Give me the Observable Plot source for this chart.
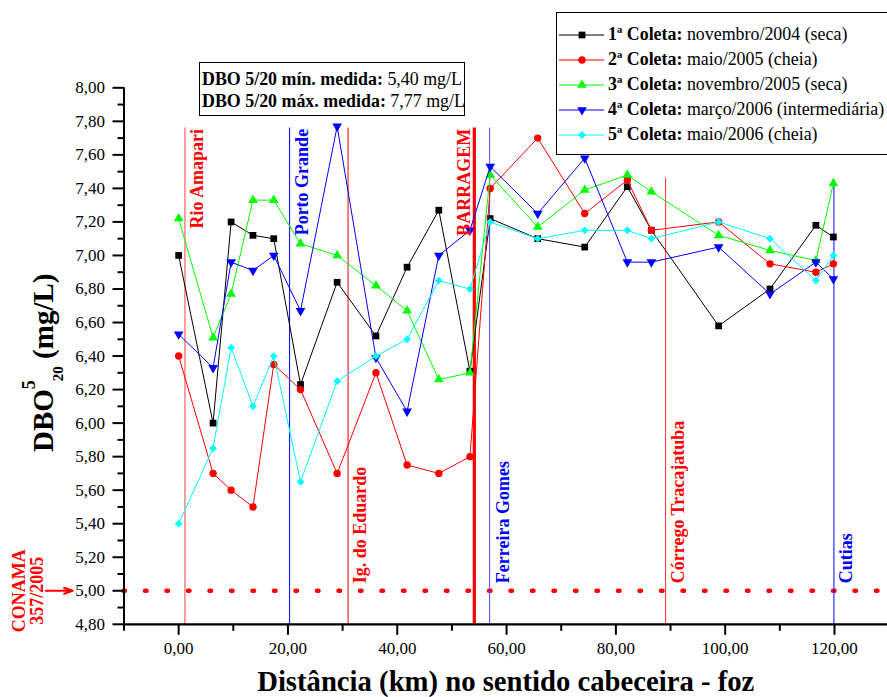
<!DOCTYPE html>
<html><head><meta charset="utf-8">
<script src="https://cdn.jsdelivr.net/npm/d3@7"></script>
<script src="https://cdn.jsdelivr.net/npm/@observablehq/plot@0.6"></script>
<style>
body{margin:0;background:#fff;}
#wrap{position:relative;width:887px;height:697px;font-family:"Liberation Serif","Times New Roman",serif;color:#000;overflow:hidden;}
#wrap svg{position:absolute;left:0;top:0;}
.box{position:absolute;background:#fff;border:1.5px solid #000;box-sizing:border-box;}
#legend{left:556px;top:12px;width:332px;height:143px;padding-top:9px;font-size:17.9px;}
.row{display:flex;align-items:center;height:25px;white-space:nowrap;}
.row svg{position:static !important;margin-left:2px;margin-right:3px;}
#anot{left:199px;top:62px;width:266px;height:54px;font-size:17.9px;line-height:22px;padding:5px 0 0 2px;white-space:nowrap;}
b{font-weight:bold;}
</style></head>
<body><div id="wrap"></div>
<script>
// Distância (km) de cada ponto de coleta
const distancia = [0, 6.3, 9.6, 13.6, 17.4, 22.3, 29.0, 36.1, 41.8, 47.6, 53.3, 57.0, 65.7, 74.3, 82.1, 86.5, 98.8, 108.2, 116.6, 119.8];
// DBO 5/20 (mg/L) por coleta
const coleta1 = [7.00, 6.00, 7.20, 7.12, 7.10, 6.23, 6.84, 6.52, 6.93, 7.27, 6.31, 7.22, 7.10, 7.05, 7.41, 7.15, 6.58, 6.80, 7.18, 7.11];
const coleta2 = [6.40, 5.70, 5.60, 5.50, 6.35, 6.20, 5.70, 6.30, 5.75, 5.70, 5.80, 7.40, 7.70, 7.25, 7.45, 7.15, 7.20, 6.95, 6.90, 6.95];
const coleta3 = [7.22, 6.51, 6.77, 7.33, 7.33, 7.07, 7.00, 6.82, 6.67, 6.26, 6.30, 7.48, 7.17, 7.39, 7.48, 7.38, 7.12, 7.03, 6.97, 7.43];
const coleta4 = [6.53, 6.33, 6.96, 6.91, 7.00, 6.67, 7.77, 6.39, 6.07, 7.00, 7.15, 7.53, 7.25, 7.58, 6.96, 6.96, 7.05, 6.77, 6.96, 6.86];
const coleta5 = [5.40, 5.85, 6.45, 6.10, 6.40, 5.65, 6.25, 6.40, 6.50, 6.85, 6.80, 7.20, 7.10, 7.15, 7.15, 7.10, 7.20, 7.10, 6.85, 7.00];
const coletaNomes = ["1ª Coleta:", "2ª Coleta:", "3ª Coleta:", "4ª Coleta:", "5ª Coleta:"];
const coletaDesc = ["novembro/2004 (seca)", "maio/2005 (cheia)", "novembro/2005 (seca)", "março/2006 (intermediária)", "maio/2006 (cheia)"];
// Marcos ao longo do rio
const marcos = ["Rio Amapari", "Porto Grande", "Ig. do Eduardo", "BARRAGEM", "Ferreira Gomes", "Córrego Tracajatuba", "Cutias"];
const marcosKm = [1.15, 20.3, 31.0, 54.1, 56.9, 89.1, 119.9];
// Limite CONAMA 357/2005
const limiteConama = 5.0;
const dboMin = "5,40", dboMax = "7,77";
// Ticks
const yMajor = d3.range(48, 81, 2).map(d => d / 10);
const yMinor = d3.range(49, 80, 2).map(d => d / 10);
const xMajor = [0, 20, 40, 60, 80, 100, 120];
const xMinor = [-10, 10, 30, 50, 70, 90, 110, 130];

// ---- styles ----
const FONT = '"Liberation Serif","Times New Roman",serif';
const cores = ["#000000", "#ff0000", "#00ff00", "#0000ff", "#00ffff"];
const simbolos = ["square", "circle", "triangle", "triangle", "diamond2"];
const rotacoes = [0, 0, 0, 180, 0];
const raios = [3.8, 3.7, 3.6, 3.6, 3.5];
const marcoEstilo = {
  "Rio Amapari":        {stroke: "#ff6a6a", fill: "#ff0000", w: 1.3, top: 7.76, pos: "top", dx: 12.5},
  "Porto Grande":       {stroke: "#0000ff", fill: "#0000ff", w: 1, top: 7.76, pos: "top", dx: 12.5},
  "Ig. do Eduardo":     {stroke: "#ff0000", fill: "#ff0000", w: 1, top: 7.76, pos: "bottom", dx: 12.5},
  "BARRAGEM":           {stroke: "#ff0000", fill: "#ff0000", w: 3.2, top: 7.76, pos: "top", dx: -10},
  "Ferreira Gomes":     {stroke: "#4a4aff", fill: "#0000ff", w: 1, top: 7.76, pos: "bottom", dx: 13.5},
  "Córrego Tracajatuba":{stroke: "#ff2a2a", fill: "#ff0000", w: 1, top: 7.46, pos: "bottom", dx: 13},
  "Cutias":             {stroke: "#0000ff", fill: "#0000ff", w: 1, top: 7.44, pos: "bottom", dx: 12}
};

const coletas = [coleta1, coleta2, coleta3, coleta4, coleta5];
const fmt = d => d.toFixed(2).replace(".", ",");
const marcosData = marcos.map((m, i) => ({nome: m, km: marcosKm[i]}));

const marks = [
  Plot.ruleY([limiteConama], {stroke: "#ff0000", strokeWidth: 4.5, strokeDasharray: "1.5 20", strokeLinecap: "round"})
];
marcosData.forEach(d => {
  const s = marcoEstilo[d.nome];
  marks.push(Plot.ruleX([d], {x: "km", y1: 4.8, y2: s.top, stroke: s.stroke, strokeWidth: s.w}));
});
coletas.forEach((vals, i) => {
  const rows = distancia.map((x, j) => ({x, y: vals[j]}));
  marks.push(Plot.line(rows, {x: "x", y: "y", stroke: cores[i], strokeWidth: 1}));
  marks.push(Plot.dot(rows, {x: "x", y: "y", symbol: simbolos[i], fill: cores[i], stroke: "none", r: raios[i], rotate: rotacoes[i]}));
});
marcosData.forEach(d => {
  const s = marcoEstilo[d.nome];
  marks.push(Plot.text([d], {
    x: "km", y: s.pos === "top" ? 7.755 : 5.045, text: "nome", rotate: -90,
    textAnchor: s.pos === "top" ? "end" : "start", dx: s.dx,
    fill: s.fill, fontSize: 18, fontWeight: "bold", fontFamily: FONT
  }));
});
// CONAMA label and arrow
marks.push(Plot.text([limiteConama], {y: d => d, frameAnchor: "left", textAnchor: "middle", dx: -96, text: () => "CONAMA\n357/2005",
  rotate: -90, lineHeight: 1.0, fill: "#ff0000", fontSize: 18, fontWeight: "bold", fontFamily: FONT}));
marks.push(Plot.arrow([limiteConama], {x1: () => -24.3, x2: () => -19.4, y1: d => d, y2: d => d,
  stroke: "#ff0000", strokeWidth: 2.2, headLength: 15, headAngle: 38}));
// x title
marks.push(Plot.text(["Distância (km) no sentido cabeceira - foz"], {frameAnchor: "bottom", dy: 67, text: d => d,
  fontSize: 28.7, fontWeight: "bold", fill: "#000", fontFamily: FONT}));
// axes
marks.push(
  Plot.ruleX([-10], {y1: 4.8, y2: 8, stroke: "#000", strokeWidth: 2}),
  Plot.ruleY([4.8], {stroke: "#000", strokeWidth: 2.2}),
  Plot.axisY(yMajor, {tickSize: 11, tickPadding: 8, tickFormat: fmt, strokeWidth: 2, fontSize: 17, fontFamily: FONT, label: null}),
  Plot.axisY(yMinor, {tickSize: 6, tickFormat: () => "", strokeWidth: 2, label: null}),
  Plot.axisX(xMajor, {tickSize: 11, tickPadding: 7, tickFormat: fmt, strokeWidth: 2, fontSize: 17, fontFamily: FONT, label: null}),
  Plot.axisX(xMinor, {tickSize: 7, tickFormat: () => "", strokeWidth: 2, label: null})
);

const chart = Plot.plot({
  width: 887, height: 697,
  marginLeft: 123.5, marginRight: 0, marginTop: 87.3, marginBottom: 73.2,
  x: {domain: [-10, 129.7], label: null},
  y: {domain: [4.8, 8], label: null},
  style: {fontFamily: FONT, fontSize: "17px", color: "#000", background: "#fff", overflow: "visible"},
  marks
});
const wrap = document.getElementById("wrap");
wrap.appendChild(chart);

// y title with super/subscripts
const t = d3.select(chart).append("text")
  .attr("transform", "translate(53,452) rotate(-90)")
  .attr("text-anchor", "start")
  .attr("font-family", FONT)
  .attr("font-weight", "bold").attr("font-size", 29).attr("fill", "#000");
t.append("tspan").text("DBO");
t.append("tspan").attr("font-size", 18).attr("dy", -18).text("5");
t.append("tspan").attr("font-size", 15).attr("dx", -1).attr("dy", 28).text("20");
t.append("tspan").attr("dy", -10).text(" (mg/L)");

// annotation box
const anot = document.createElement("div");
anot.className = "box"; anot.id = "anot";
anot.innerHTML = `<div><b>DBO 5/20 mín. medida:</b> ${dboMin} mg/L</div><div><b>DBO 5/20 máx. medida:</b> ${dboMax} mg/L</div>`;
wrap.appendChild(anot);

// legend
const leg = document.createElement("div");
leg.className = "box"; leg.id = "legend";
coletaNomes.forEach((nome, i) => {
  const row = document.createElement("div"); row.className = "row";
  const sv = d3.create("svg").attr("width", 46).attr("height", 16);
  sv.append("line").attr("x1", 0).attr("x2", 45).attr("y1", 8).attr("y2", 8).attr("stroke", cores[i]).attr("stroke-width", 1.2);
  const sym = {square: d3.symbolSquare, circle: d3.symbolCircle, triangle: d3.symbolTriangle, diamond2: d3.symbolDiamond2}[simbolos[i]];
  sv.append("path").attr("d", d3.symbol(sym, Math.PI * raios[i] * raios[i])())
    .attr("transform", `translate(23,8) rotate(${rotacoes[i]})`).attr("fill", cores[i]);
  row.appendChild(sv.node());
  const sp = document.createElement("span");
  sp.innerHTML = `<b>${nome}</b> ${coletaDesc[i]}`;
  row.appendChild(sp);
  leg.appendChild(row);
});
wrap.appendChild(leg);
</script></body></html>
